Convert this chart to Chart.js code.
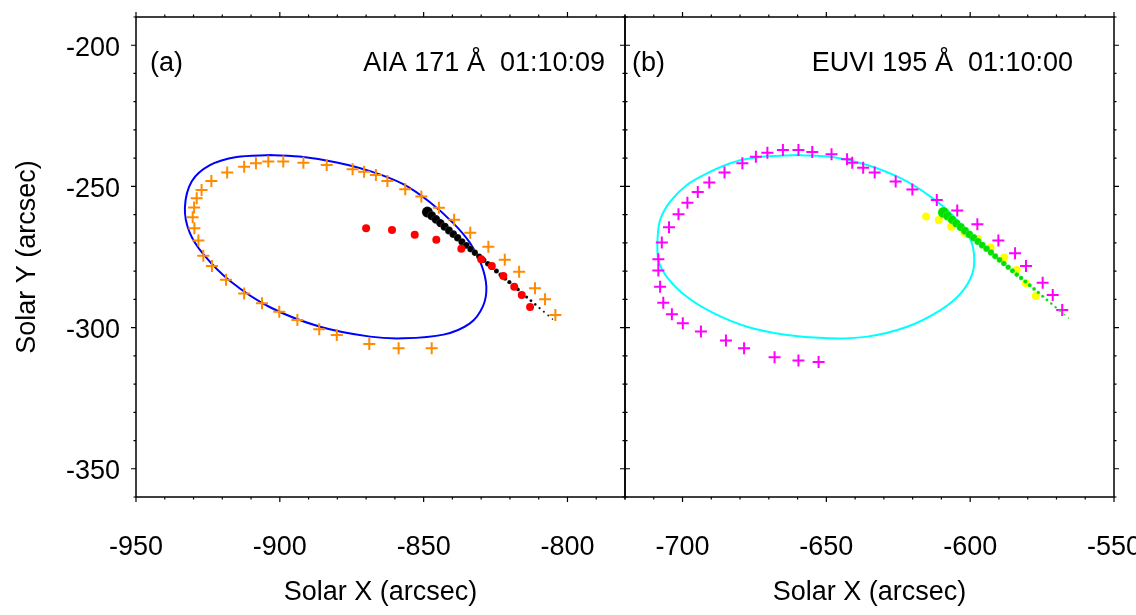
<!DOCTYPE html>
<html>
<head>
<meta charset="utf-8">
<script src="https://cdn.jsdelivr.net/npm/chart.js@4"></script>
<style>
  body { margin: 0; background: #fff; }
  #wrap { position: relative; width: 1136px; height: 615px; }
  canvas { position: absolute; top: 0; }
</style>
</head>
<body>
<div id="wrap">
  <canvas id="chartA" width="640" height="615" style="left:0"></canvas>
  <canvas id="chartB" width="526" height="615" style="left:610px"></canvas>
</div>
<script>
// Ejes
const yRange = [-360, -190];
const yTicks = [-350, -300, -250, -200];
const xRangeA = [-950, -780];
const xTicksA = [-950, -900, -850, -800];
const xRangeB = [-720, -550];
const xTicksB = [-700, -650, -600, -550];

// Panel (a): AIA 171
const aEllipseX = [-903.4, -891.8, -880.2, -868.6, -857.1, -847.8, -839.7, -833.9, -830.0, -828.2, -829.4, -833.9, -843.1, -857.1, -868.6, -886.0, -903.4, -917.3, -926.6, -931.4, -933.0, -930.6, -924.3, -915.0, -903.4];
const aEllipseY = [-238.9, -239.6, -241.5, -244.6, -249.2, -255.6, -263.0, -270.0, -277.5, -285.5, -292.5, -298.5, -302.5, -303.8, -303.2, -299.7, -292.8, -283.5, -274.0, -266.2, -257.5, -248.2, -242.5, -239.6, -238.9];

const aCrossX = [-912.4, -908.3, -904.0, -898.8, -891.8, -883.7, -874.7, -870.7, -866.6, -862.6, -856.4, -850.8, -844.7, -839.4, -833.8, -827.5, -821.8, -816.8, -811.3, -807.8, -804.2,
                 -918.3, -923.8, -927.2, -928.9, -929.8, -930.3, -929.7, -928.3, -926.6, -923.6, -918.7, -912.4, -906.2, -900.2, -893.9, -886.3, -880.2, -868.9, -858.7, -847.2];
const aCrossY = [-243.0, -241.8, -241.2, -241.2, -241.6, -242.4, -243.9, -244.8, -246.0, -248.1, -251.0, -253.6, -257.6, -261.8, -266.4, -271.4, -276.0, -280.2, -286.1, -290.0, -295.5,
                 -245.1, -248.1, -251.3, -254.2, -257.5, -260.9, -264.8, -269.2, -274.6, -278.2, -283.1, -287.9, -291.4, -294.4, -297.3, -300.6, -302.6, -305.8, -307.3, -307.3];

const aRedX = [-870.0, -861.0, -853.1, -845.6, -836.9, -830.0, -826.3, -822.3, -818.5, -815.9, -813.0];
const aRedY = [-264.8, -265.4, -267.1, -268.9, -272.1, -275.8, -278.2, -281.7, -285.5, -288.5, -292.7];

const aTrailX = [-848.7, -847.2, -845.7, -844.2, -842.7, -841.2, -839.7, -838.2, -836.7, -835.2, -833.7, -832.2, -830.7, -829.2, -827.7,
                 -826.2, -824.7, -823.2, -821.7, -820.2, -818.7, -817.2, -815.7, -814.2, -812.7, -811.2, -809.7, -808.2, -806.7, -805.2];
const aTrailY = [-259.1, -260.4, -261.7, -263.0, -264.3, -265.6, -266.9, -268.2, -269.6, -270.9, -272.2, -273.5, -274.8, -276.1, -277.4,
                 -278.7, -280.0, -281.3, -282.6, -283.9, -285.2, -286.5, -287.9, -289.2, -290.5, -291.8, -293.1, -294.4, -295.7, -297.0];

// Panel (b): EUVI 195
const bEllipseX = [-660.2, -647.4, -635.8, -624.2, -613.8, -605.6, -600.4, -598.7, -599.2, -603.3, -610.3, -621.9, -635.8, -649.2, -663.7, -677.6, -689.2, -698.5, -705.5, -708.4, -708.7, -707.8, -704.3, -698.5, -691.5, -683.4, -674.1, -660.2];
const bEllipseY = [-238.9, -239.7, -242.4, -247.1, -253.6, -260.7, -267.8, -273.7, -280.8, -287.9, -293.8, -299.7, -303.2, -303.8, -302.6, -299.7, -294.9, -289.1, -282.0, -276.1, -269.0, -261.9, -255.4, -249.5, -245.4, -241.8, -239.7, -238.9];

const bCrossX = [-707.2, -704.7, -701.4, -698.3, -694.7, -690.7, -685.4, -679.2, -674.5, -670.5, -665.1, -659.7, -654.9, -648.2, -642.8, -641.0, -637.2, -633.2, -625.9, -620.1, -611.6, -604.5, -597.5, -590.2, -584.4, -580.6, -574.8, -571.3, -568.0,
                 -708.4, -708.4, -707.8, -706.7, -703.7, -699.9, -693.6, -684.9, -678.6, -668.0, -659.7, -652.7];
const bCrossY = [-269.9, -264.5, -259.9, -255.8, -252.0, -248.6, -245.1, -241.8, -239.5, -238.1, -237.1, -237.1, -237.8, -238.6, -240.4, -241.6, -243.4, -245.1, -248.3, -251.1, -254.8, -258.5, -263.4, -269.2, -273.7, -278.2, -284.1, -288.5, -293.8,
                 -275.8, -279.8, -285.5, -291.2, -295.3, -298.5, -301.4, -304.6, -307.3, -310.5, -311.7, -312.2];

const bYellowX = [-615.3, -610.9, -606.6, -602.0, -597.3, -592.9, -588.2, -583.8, -580.6, -577.2];
const bYellowY = [-260.7, -261.9, -264.3, -266.4, -268.6, -271.6, -275.2, -279.6, -284.3, -288.8];

const bTrailX = [-609.3, -607.8, -606.3, -604.8, -603.3, -601.8, -600.3, -598.8, -597.3, -595.8, -594.3, -592.8, -591.3, -589.8, -588.3,
                 -586.8, -585.3, -583.8, -582.3, -580.8, -579.3, -577.8, -576.3, -574.8, -573.3, -571.8, -570.3, -568.8, -567.3, -565.8];
const bTrailY = [-259.2, -260.5, -261.8, -263.1, -264.4, -265.7, -267.0, -268.2, -269.5, -270.8, -272.1, -273.4, -274.7, -276.0, -277.3,
                 -278.6, -279.9, -281.2, -282.4, -283.7, -285.0, -286.3, -287.6, -288.9, -290.2, -291.5, -292.8, -294.1, -295.4, -296.6];

const FONT = { family: '"Liberation Sans", Arial, Helvetica, sans-serif', size: 27 };

const pts = (xs, ys) => xs.map((x, i) => ({ x, y: ys[i] }));

// Tamaño decreciente de los puntos de la traza
const trailRadius = (ctx) => {
    const n = ctx.dataset.data.length;
    const i = ctx.dataIndex;
    return i === 0 ? 5.5 : 4.6 - 3.8 * i / (n - 1);
};

// Marco con marcas hacia fuera (estilo IDL) y rótulos del panel
const framePlugin = {
    id: 'frame',
    afterDraw(chart, args, opts) {
        const { ctx, chartArea: a, scales: { x, y } } = chart;
        ctx.save();
        ctx.strokeStyle = '#000';
        ctx.lineWidth = 1.5;
        ctx.strokeRect(a.left, a.top, a.right - a.left, a.bottom - a.top);
        ctx.lineWidth = 1.2;
        ctx.beginPath();
        for (let v = x.min; v <= x.max + 0.01; v += 10) {
            const p = x.getPixelForValue(v);
            const len = (Math.round(v) % 50 === 0) ? 5 : 2.5;
            ctx.moveTo(p, a.bottom); ctx.lineTo(p, a.bottom + len);
            ctx.moveTo(p, a.top); ctx.lineTo(p, a.top - len);
        }
        for (let v = y.min; v <= y.max + 0.01; v += 10) {
            const p = y.getPixelForValue(v);
            const len = (Math.round(v) % 50 === 0) ? 5 : 2.5;
            ctx.moveTo(a.left, p); ctx.lineTo(a.left - len, p);
            ctx.moveTo(a.right, p); ctx.lineTo(a.right + len, p);
        }
        ctx.stroke();

        ctx.fillStyle = '#000';
        ctx.font = `${FONT.size}px ${FONT.family}`;
        ctx.textBaseline = 'alphabetic';
        ctx.textAlign = 'left';
        ctx.fillText(opts.tag, opts.tagX, opts.textY);
        ctx.textAlign = 'right';
        ctx.fillText(opts.label, opts.labelRight, opts.textY);
        ctx.restore();
    }
};

function xScale(range, ticks) {
    return {
        type: 'linear',
        min: range[0],
        max: range[1],
        grid: { display: false, drawTicks: false },
        border: { display: false },
        ticks: { font: FONT, color: '#000', padding: 34, autoSkip: false, maxRotation: 0 },
        afterBuildTicks: (s) => { s.ticks = ticks.map(v => ({ value: v })); },
        afterFit: (s) => { s.height = 118; s.paddingLeft = 0; s.paddingRight = 0; },
        title: { display: true, text: 'Solar X (arcsec)', font: FONT, color: '#000', padding: { top: 0, bottom: 6 } }
    };
}

function yScale(show) {
    return {
        type: 'linear',
        display: show,
        min: yRange[0],
        max: yRange[1],
        grid: { display: false, drawTicks: false },
        border: { display: false },
        ticks: { font: FONT, color: '#000', padding: 16, labelOffset: 3, autoSkip: false },
        afterBuildTicks: (s) => { s.ticks = yTicks.map(v => ({ value: v })); },
        afterFit: (s) => { s.width = show ? 136 : 0; s.paddingTop = 0; s.paddingBottom = 0; },
        title: { display: true, text: 'Solar Y (arcsec)', font: FONT, color: '#000', padding: { top: 11, bottom: 0 } }
    };
}

const commonOptions = {
    responsive: false,
    animation: false,
    devicePixelRatio: 1,
    plugins: { legend: { display: false }, tooltip: { enabled: false } }
};

const ellipseStyle = (color) => ({
    showLine: true, pointRadius: 0, borderWidth: 2, borderColor: color, fill: false, tension: 0.3
});

// Panel (a)
new Chart(document.getElementById('chartA'), {
    type: 'scatter',
    data: {
        datasets: [
            { data: pts(aRedX, aRedY), order: 1, pointRadius: 4, pointBackgroundColor: '#ff0000', pointBorderWidth: 0 },
            { data: pts(aTrailX, aTrailY), order: 2, pointRadius: trailRadius, pointBackgroundColor: '#000',
              pointBorderColor: 'rgba(255,255,255,0.3)', pointBorderWidth: 0.5 },
            { data: pts(aCrossX, aCrossY), order: 3, pointStyle: 'cross', pointRadius: 6, pointBorderWidth: 2, pointBorderColor: '#ff8a00' },
            { data: pts(aEllipseX, aEllipseY), order: 4, ...ellipseStyle('#0000ff') }
        ]
    },
    options: {
        ...commonOptions,
        layout: { padding: { left: 0, right: 15, top: 17, bottom: 0 } },
        scales: { x: xScale(xRangeA, xTicksA), y: yScale(true) },
        plugins: {
            ...commonOptions.plugins,
            frame: { tag: '(a)', tagX: 150, label: 'AIA 171 Å  01:10:09', labelRight: 605, textY: 71 }
        }
    },
    plugins: [framePlugin]
});

// Panel (b)
new Chart(document.getElementById('chartB'), {
    type: 'scatter',
    data: {
        datasets: [
            { data: pts(bTrailX, bTrailY), order: 1, pointRadius: trailRadius, pointBackgroundColor: '#00e000',
              pointBorderColor: 'rgba(255,255,255,0.3)', pointBorderWidth: 0.5 },
            { data: pts(bYellowX, bYellowY), order: 2, pointRadius: 4, pointBackgroundColor: '#ffff00', pointBorderWidth: 0 },
            { data: pts(bCrossX, bCrossY), order: 3, pointStyle: 'cross', pointRadius: 6, pointBorderWidth: 2, pointBorderColor: '#ff00ff' },
            { data: pts(bEllipseX, bEllipseY), order: 4, ...ellipseStyle('#00ffff') }
        ]
    },
    options: {
        ...commonOptions,
        layout: { padding: { left: 15, right: 22, top: 17, bottom: 0 } },
        scales: { x: xScale(xRangeB, xTicksB), y: yScale(false) },
        plugins: {
            ...commonOptions.plugins,
            frame: { tag: '(b)', tagX: 22, label: 'EUVI 195 Å  01:10:00', labelRight: 463, textY: 71 }
        }
    },
    plugins: [framePlugin]
});
</script>
</body>
</html>
